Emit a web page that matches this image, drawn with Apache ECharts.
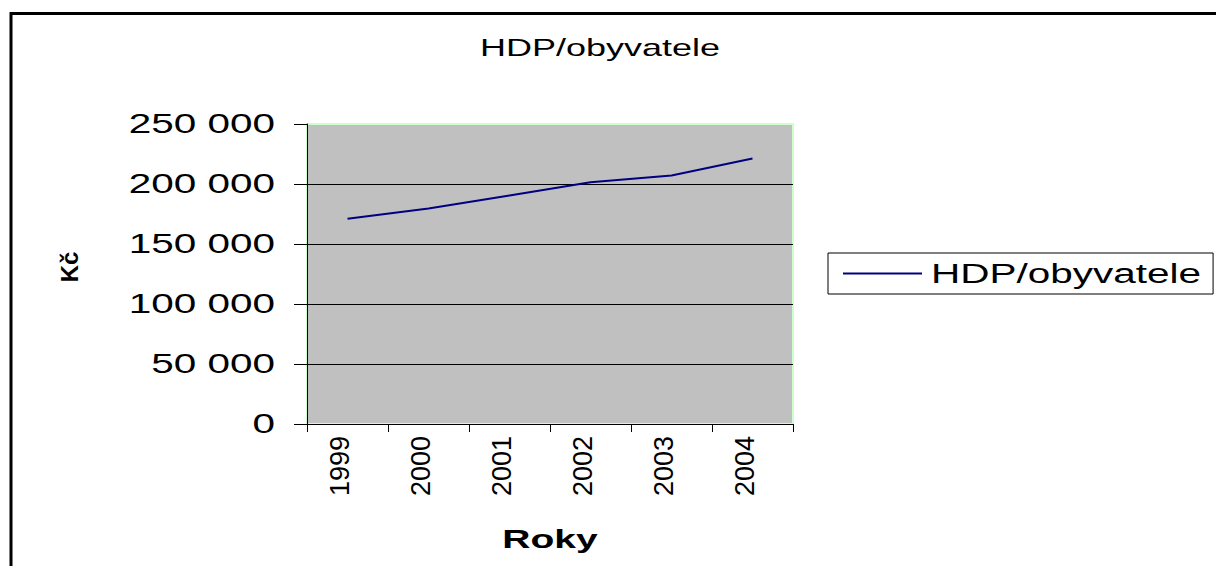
<!DOCTYPE html>
<html><head><meta charset="utf-8">
<script src="https://cdn.jsdelivr.net/npm/echarts@6/dist/echarts.min.js"></script>
<style>html,body{margin:0;padding:0;background:#fff}#c{width:1216px;height:566px}</style>
</head><body><div id="c"></div>
<script>
// ---- data ----
const years = ['1999', '2000', '2001', '2002', '2003', '2004'];
const hdpPerCapita = [171000, 179500, 190500, 201500, 207000, 221300];
const seriesName = 'HDP/obyvatele';
const chartTitle = 'HDP/obyvatele';
const xAxisTitle = 'Roky';
const yAxisTitle = 'Kč';
const yMin = 0, yMax = 250000, yStep = 50000;

const FONT = "'Liberation Sans', Arial, sans-serif";
const fmt = v => String(v).replace(/\B(?=(\d{3})+(?!\d))/g, ' ');

const chart = echarts.init(document.getElementById('c'), null, { renderer: 'svg' });
chart.setOption({
  animation: false,
  backgroundColor: '#fff',
  title: {
    text: chartTitle, left: 595, top: 30, textAlign: 'center',
    textStyle: { fontFamily: FONT, fontSize: 24, fontWeight: 'normal', color: '#000' }
  },
  legend: {
    left: 828, top: 253, orient: 'horizontal', selectedMode: false,
    padding: [7, 102, 7, 15], borderColor: '#000', borderWidth: 1, borderRadius: 0,
    icon: 'rect', itemWidth: 79, itemHeight: 2,
    textStyle: { fontFamily: FONT, fontSize: 27, color: '#000', padding: [0, 0, 0, 4] },
    data: [seriesName]
  },
  graphic: [{
    type: 'rect', silent: true, z: 100,
    shape: { x: 11, y: 13.5, width: 1400, height: 800 },
    style: { fill: 'none', stroke: '#000', lineWidth: 3 }
  }],
  grid: {
    left: 307, right: 423, top: 124, bottom: 142,
    show: true, backgroundColor: '#C0C0C0', borderColor: '#CCFFCC', borderWidth: 2
  },
  xAxis: {
    type: 'category', data: years, boundaryGap: true,
    name: xAxisTitle, nameLocation: 'middle', nameGap: 102,
    nameTextStyle: { fontFamily: FONT, fontSize: 26, fontWeight: 'bold', color: '#000' },
    axisLine: { show: true, lineStyle: { color: '#000', width: 1 } },
    axisTick: { show: true, length: 8, inside: false, lineStyle: { color: '#000' } },
    axisLabel: {
      rotate: 90, interval: 0, margin: 12, fontFamily: FONT, fontSize: 27, color: '#000',
      verticalAlign: 'bottom', lineHeight: 16
    },
    splitLine: { show: false }
  },
  yAxis: {
    type: 'value', min: yMin, max: yMax, interval: yStep,
    name: yAxisTitle, nameLocation: 'middle', nameGap: 226, nameRotate: 90,
    nameTextStyle: { fontFamily: FONT, fontSize: 24, fontWeight: 'bold', color: '#000', padding: [0, 0, 0, 14] },
    axisLine: { show: true, lineStyle: { color: '#000', width: 1 } },
    axisTick: { show: true, length: 13, inside: false, lineStyle: { color: '#000' } },
    axisLabel: { margin: 32, fontFamily: FONT, fontSize: 27, color: '#000', formatter: fmt },
    splitLine: { show: true, showMaxLine: false, lineStyle: { color: '#000', width: 1 } }
  },
  series: [{
    name: seriesName, type: 'line', data: hdpPerCapita,
    symbol: 'none', silent: true,
    lineStyle: { color: '#000080', width: 2 }, itemStyle: { color: '#000080' }
  }]
});

// The reference renders horizontal text stretched ~1.5x wide; emulate it on the SVG text.
function stretchText() {
  const svg = document.querySelector('#c svg');
  if (!svg) return;
  svg.querySelectorAll('text').forEach(t => {
    if (t.getAttribute('data-sx')) return;
    const ctm = t.getCTM();
    if (ctm && Math.abs(ctm.b) > 1e-6) { t.setAttribute('data-sx', '0'); return; }
    const x = parseFloat(t.getAttribute('x') || 0), y = parseFloat(t.getAttribute('y') || 0);
    const tr = t.getAttribute('transform') || '';
    t.setAttribute('transform', (tr + ' translate(' + x + ' ' + y + ') scale(1.5 1)').trim());
    t.setAttribute('x', 0); t.setAttribute('y', 0);
    t.setAttribute('data-sx', '1');
  });
}
stretchText();
chart.on('finished', stretchText);
setTimeout(stretchText, 50);
</script></body></html>
